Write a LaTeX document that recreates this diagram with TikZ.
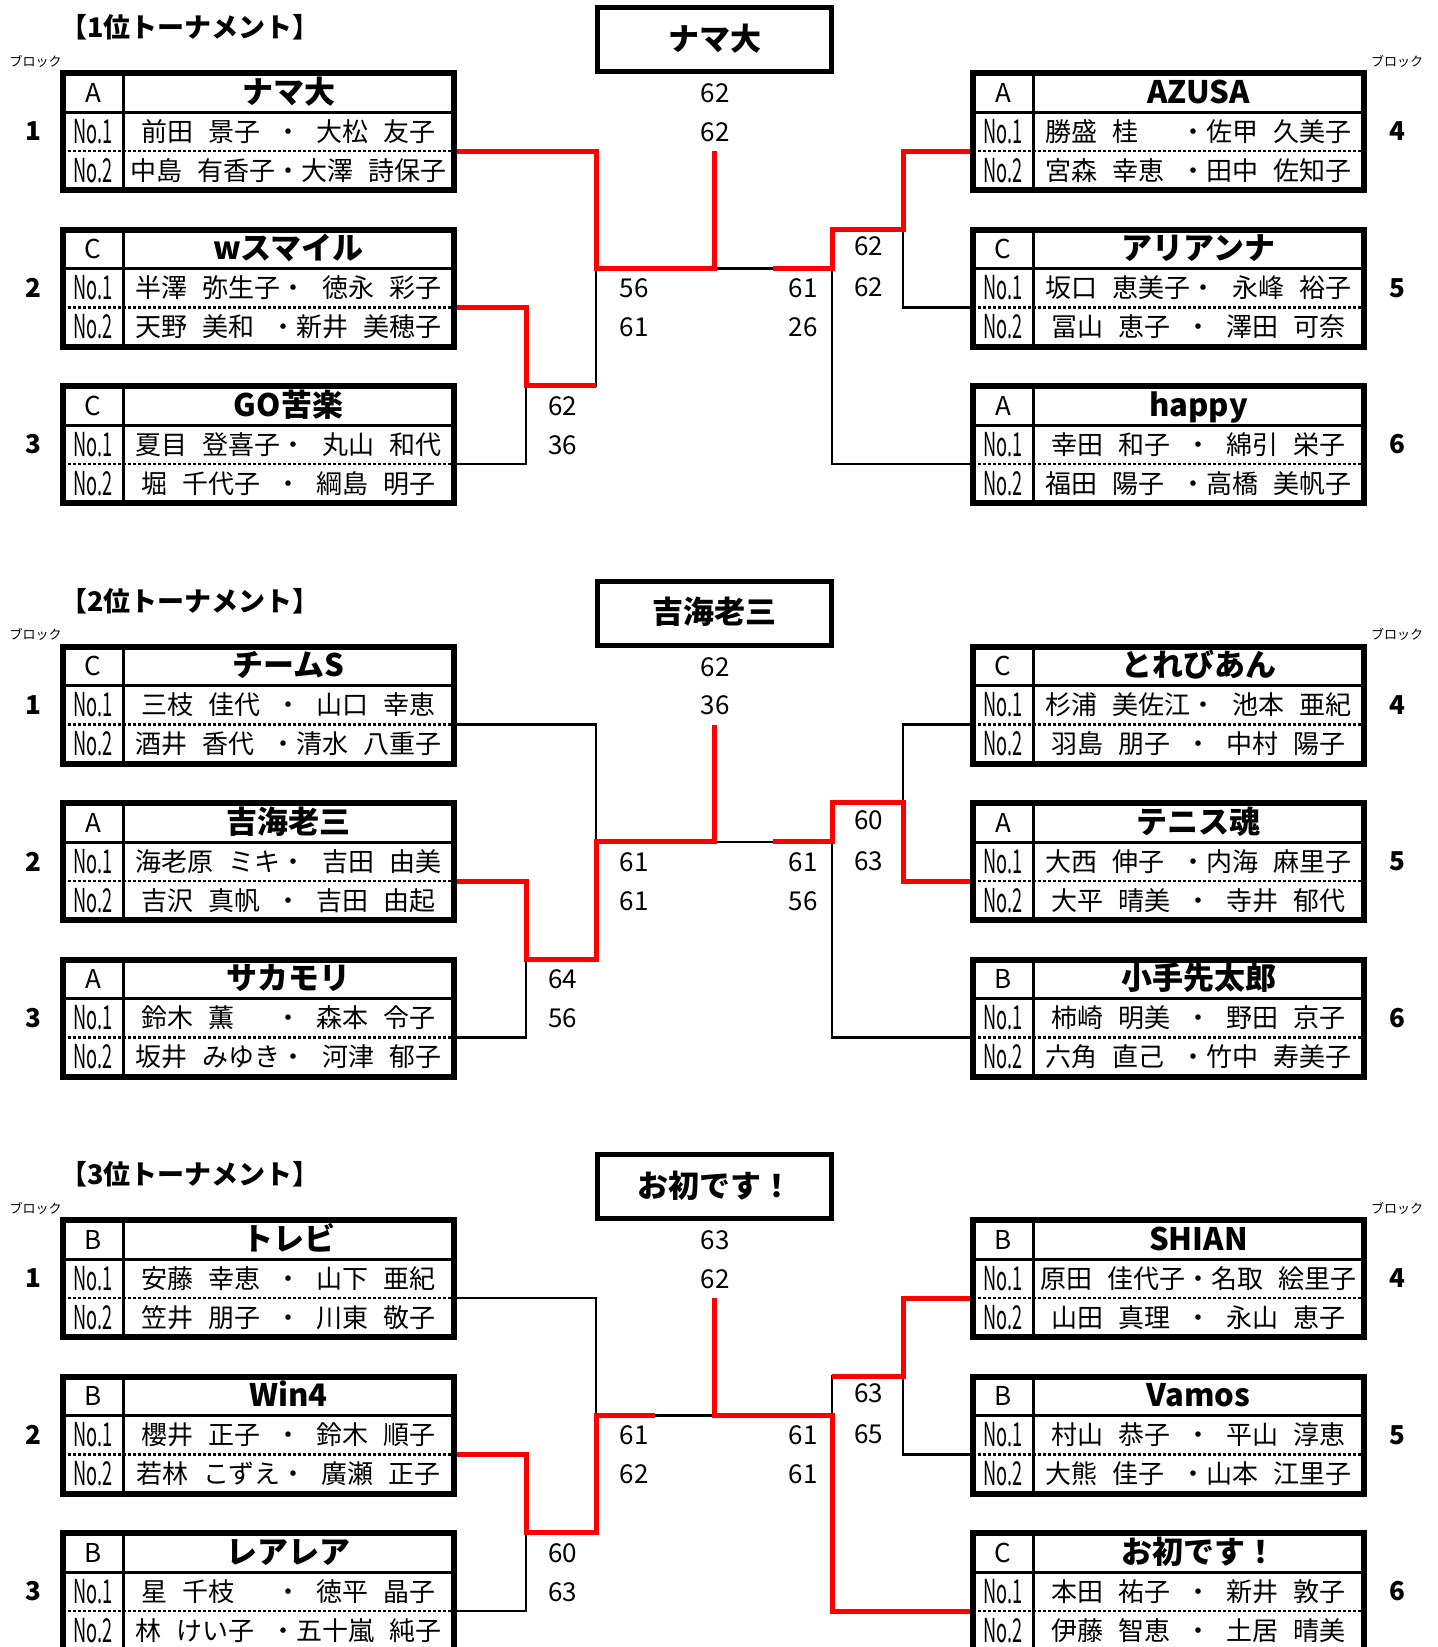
\documentclass[tikz,border=0pt]{standalone}
\usepackage{fontspec}
\setmainfont{Noto Sans CJK JP}[WordSpace=2.6]

\tikzset{
  boxrule/.style={line width=6pt},
  midrule/.style={line width=3pt},
  dotrule/.style={line width=2.5pt, dash pattern=on 2.5pt off 2.5pt},
  wire/.style={line width=2.2pt},
  win/.style={line width=5pt, red},
  head/.style={anchor=west, inner sep=0pt, font=\fontsize{27}{27}\bfseries\selectfont},
  blkhead/.style={inner sep=0pt, font=\fontsize{13}{13}\selectfont},
  grp/.style={inner sep=0pt, font=\fontsize{26}{26}\selectfont},
  teamname/.style={inner sep=0pt, text height=23.3pt, text depth=1.6pt, font=\fontsize{31}{31}\bfseries\selectfont},
  nolab/.style={inner sep=0pt, font=\fontsize{33}{33}\selectfont},
  pair/.style={inner sep=0pt, font=\fontsize{26}{26}\selectfont},
  blocknum/.style={inner sep=0pt, font=\fontsize{26}{26}\bfseries\selectfont},
  score/.style={inner sep=0pt, font=\fontsize{26}{26}\selectfont},
  champ/.style={draw, line width=5pt, minimum width=234pt, minimum height=64pt, inner sep=0pt,
    text height=23.3pt, text depth=1.6pt, font=\fontsize{31}{31}\bfseries\selectfont}
}

\newcommand{\nolabel}[1]{\scalebox{0.55}[1]{No.#1}}
\newcommand{\boxh}{117}
% #1 name, #2 x, #3 y, #4 block, #5 block x, #6 group, #7 team, #8 #9 pairs
\newcommand{\teambox}[9]{%
  \begin{scope}[shift={(#2,#3)}]
    \draw[midrule] (0,\boxh/3) -- (391,\boxh/3) (60,0) -- (60,\boxh);
    \draw[dotrule] (0,2*\boxh/3) -- (391,2*\boxh/3);
    \draw[boxrule] (0,0) rectangle (391,\boxh);
    \node[grp] (#1-g) at (30,\boxh/6) {#6};
    \node[teamname] (#1-t) at (225.5,\boxh/6) {#7};
    \node[nolab] (#1-n1) at (30,\boxh/2) {\nolabel{1}};
    \node[nolab] (#1-n2) at (30,5*\boxh/6) {\nolabel{2}};
    \node[pair] (#1-p1) at (225.5,\boxh/2) {#8};
    \node[pair] (#1-p2) at (225.5,5*\boxh/6) {#9};
    \coordinate (#1-w) at (-3,2*\boxh/3);
    \coordinate (#1-e) at (394,2*\boxh/3);
  \end{scope}
  \node[blocknum] (#1-b) at (#5,#3+\boxh/2) {#4};}

\begin{document}
\begin{tikzpicture}[x=1pt,y=-1pt]
  \useasboundingbox (0,0) rectangle (1438,1647);

  % 1位
  \node[head] (head1) at (60,27.5) {【1位トーナメント】};
  \node[blkhead] (blk1l) at (35.5,61) {ブロック};
  \node[blkhead] (blk1r) at (1397,61) {ブロック};
  \node[champ] (win1) at (714.5,39.5) {ナマ大};
  \teambox{tm11}{63}{73}{1}{33}{A}{ナマ大}{前田 景子 ・ 大松 友子}{中島 有香子・大澤 詩保子}
  \teambox{tm12}{63}{229.5}{2}{33}{C}{wスマイル}{半澤 弥生子・ 徳永 彩子}{天野 美和 ・新井 美穂子}
  \teambox{tm13}{63}{386}{3}{33}{C}{GO苦楽}{夏目 登喜子・ 丸山 和代}{堀 千代子 ・ 綱島 明子}
  \teambox{tm14}{973}{73}{4}{1397}{A}{AZUSA}{勝盛 桂　 ・佐甲 久美子}{宮森 幸恵 ・田中 佐知子}
  \teambox{tm15}{973}{229.5}{5}{1397}{C}{アリアンナ}{坂口 恵美子・ 永峰 裕子}{冨山 恵子 ・ 澤田 可奈}
  \teambox{tm16}{973}{386}{6}{1397}{A}{happy}{幸田 和子 ・ 綿引 栄子}{福田 陽子 ・高橋 美帆子}

  % 2位
  \node[head] (head2) at (60,601) {【2位トーナメント】};
  \node[blkhead] (blk2l) at (35.5,634.5) {ブロック};
  \node[blkhead] (blk2r) at (1397,634.5) {ブロック};
  \node[champ] (win2) at (714.5,613) {吉海老三};
  \teambox{tm21}{63}{646.5}{1}{33}{C}{チームS}{三枝 佳代 ・ 山口 幸恵}{酒井 香代 ・清水 八重子}
  \teambox{tm22}{63}{803}{2}{33}{A}{吉海老三}{海老原 ミキ・ 吉田 由美}{吉沢 真帆 ・ 吉田 由起}
  \teambox{tm23}{63}{959.5}{3}{33}{A}{サカモリ}{鈴木 薫　 ・ 森本 令子}{坂井 みゆき・ 河津 郁子}
  \teambox{tm24}{973}{646.5}{4}{1397}{C}{とれびあん}{杉浦 美佐江・ 池本 亜紀}{羽島 朋子 ・ 中村 陽子}
  \teambox{tm25}{973}{803}{5}{1397}{A}{テニス魂}{大西 伸子 ・内海 麻里子}{大平 晴美 ・ 寺井 郁代}
  \teambox{tm26}{973}{959.5}{6}{1397}{B}{小手先太郎}{柿崎 明美 ・ 野田 京子}{六角 直己 ・竹中 寿美子}

  % 3位
  \node[head] (head3) at (60,1174.5) {【3位トーナメント】};
  \node[blkhead] (blk3l) at (35.5,1208) {ブロック};
  \node[blkhead] (blk3r) at (1397,1208) {ブロック};
  \node[champ] (win3) at (714.5,1186.5) {お初です！};
  \teambox{tm31}{63}{1220}{1}{33}{B}{トレビ}{安藤 幸恵 ・ 山下 亜紀}{笠井 朋子 ・ 川東 敬子}
  \teambox{tm32}{63}{1376.5}{2}{33}{B}{Win4}{櫻井 正子 ・ 鈴木 順子}{若林 こずえ・ 廣瀬 正子}
  \teambox{tm33}{63}{1533}{3}{33}{B}{レアレア}{星 千枝　 ・ 徳平 晶子}{林 けい子 ・五十嵐 純子}
  \teambox{tm34}{973}{1220}{4}{1397}{B}{SHIAN}{原田 佳代子・名取 絵里子}{山田 真理 ・ 永山 恵子}
  \teambox{tm35}{973}{1376.5}{5}{1397}{B}{Vamos}{村山 恭子 ・ 平山 淳恵}{大熊 佳子 ・山本 江里子}
  \teambox{tm36}{973}{1533}{6}{1397}{C}{お初です！}{本田 祐子 ・ 新井 敦子}{伊藤 智恵 ・ 土居 晴美}

  % brackets and scores
  \foreach \s/\ya/\fa/\fb/\la/\lb/\ra/\rb/\pa/\pb/\qa/\qb in {
      1/151/62/62/56/61/61/26/62/36/62/62,
      2/724.5/62/36/61/61/61/56/64/56/60/63,
      3/1298/63/62/61/62/61/61/60/63/63/65}{
    \pgfmathsetmacro{\yj}{\ya+234.75}
    \pgfmathsetmacro{\ym}{\ya+117.4}
    \pgfmathsetmacro{\yk}{\ya+78.25}
    \coordinate (s\s-j) at (526,\yj);
    \coordinate (s\s-jj) at (596,\yj);
    \coordinate (s\s-ml) at (596,\ym);
    \coordinate (s\s-hl) at (655,\ym);
    \coordinate (s\s-c) at (714.5,\ym);
    \coordinate (s\s-top) at (714.5,\ya);
    \coordinate (s\s-hr) at (773,\ym);
    \coordinate (s\s-mr) at (832,\ym);
    \coordinate (s\s-kk) at (832,\yk);
    \coordinate (s\s-k) at (903,\yk);
    \draw[wire] (tm\s1-e) -| (s\s-ml) (tm\s2-e) -| (s\s-j) (tm\s3-e) -| (s\s-j) -- (s\s-jj) -- (s\s-ml) -- (s\s-mr)
      (tm\s4-w) -| (s\s-k) (tm\s5-w) -| (s\s-k) -- (s\s-kk) -- (s\s-mr) (tm\s6-w) -| (s\s-mr);
    \node[score] (s\s-f1) at (715,\ya-57.5) {\fa};
    \node[score] (s\s-f2) at (715,\ya-19) {\fb};
    \node[score] (s\s-l1) at (634,\ym+20) {\la};
    \node[score] (s\s-l2) at (634,\ym+59) {\lb};
    \node[score] (s\s-r1) at (803,\ym+20) {\ra};
    \node[score] (s\s-r2) at (803,\ym+59) {\rb};
    \node[score] (s\s-p1) at (562.5,\yj+20) {\pa};
    \node[score] (s\s-p2) at (562.5,\yj+59) {\pb};
    \node[score] (s\s-q1) at (868.5,\yk+17) {\qa};
    \node[score] (s\s-q2) at (868.5,\yk+58) {\qb};
  }

  % winners
  \draw[win] (tm11-e) -| (s1-ml) -- (s1-c) -- (s1-top);
  \draw[win] (tm12-e) -| (s1-j) -- (s1-jj);
  \draw[win] (tm14-w) -| (s1-k) -- (s1-kk) -- (s1-mr) -- (s1-hr);
  \draw[win] (tm22-e) -| (s2-j) -- (s2-jj) -- (s2-ml) -- (s2-c) -- (s2-top);
  \draw[win] (tm25-w) -| (s2-k) -- (s2-kk) -- (s2-mr) -- (s2-hr);
  \draw[win] (tm32-e) -| (s3-j) -- (s3-jj) -- (s3-ml) -- (s3-hl);
  \draw[win] (tm34-w) -| (s3-k) -- (s3-kk);
  \draw[win] (tm36-w) -| (s3-mr) -- (s3-c) -- (s3-top);
\end{tikzpicture}
\end{document}
